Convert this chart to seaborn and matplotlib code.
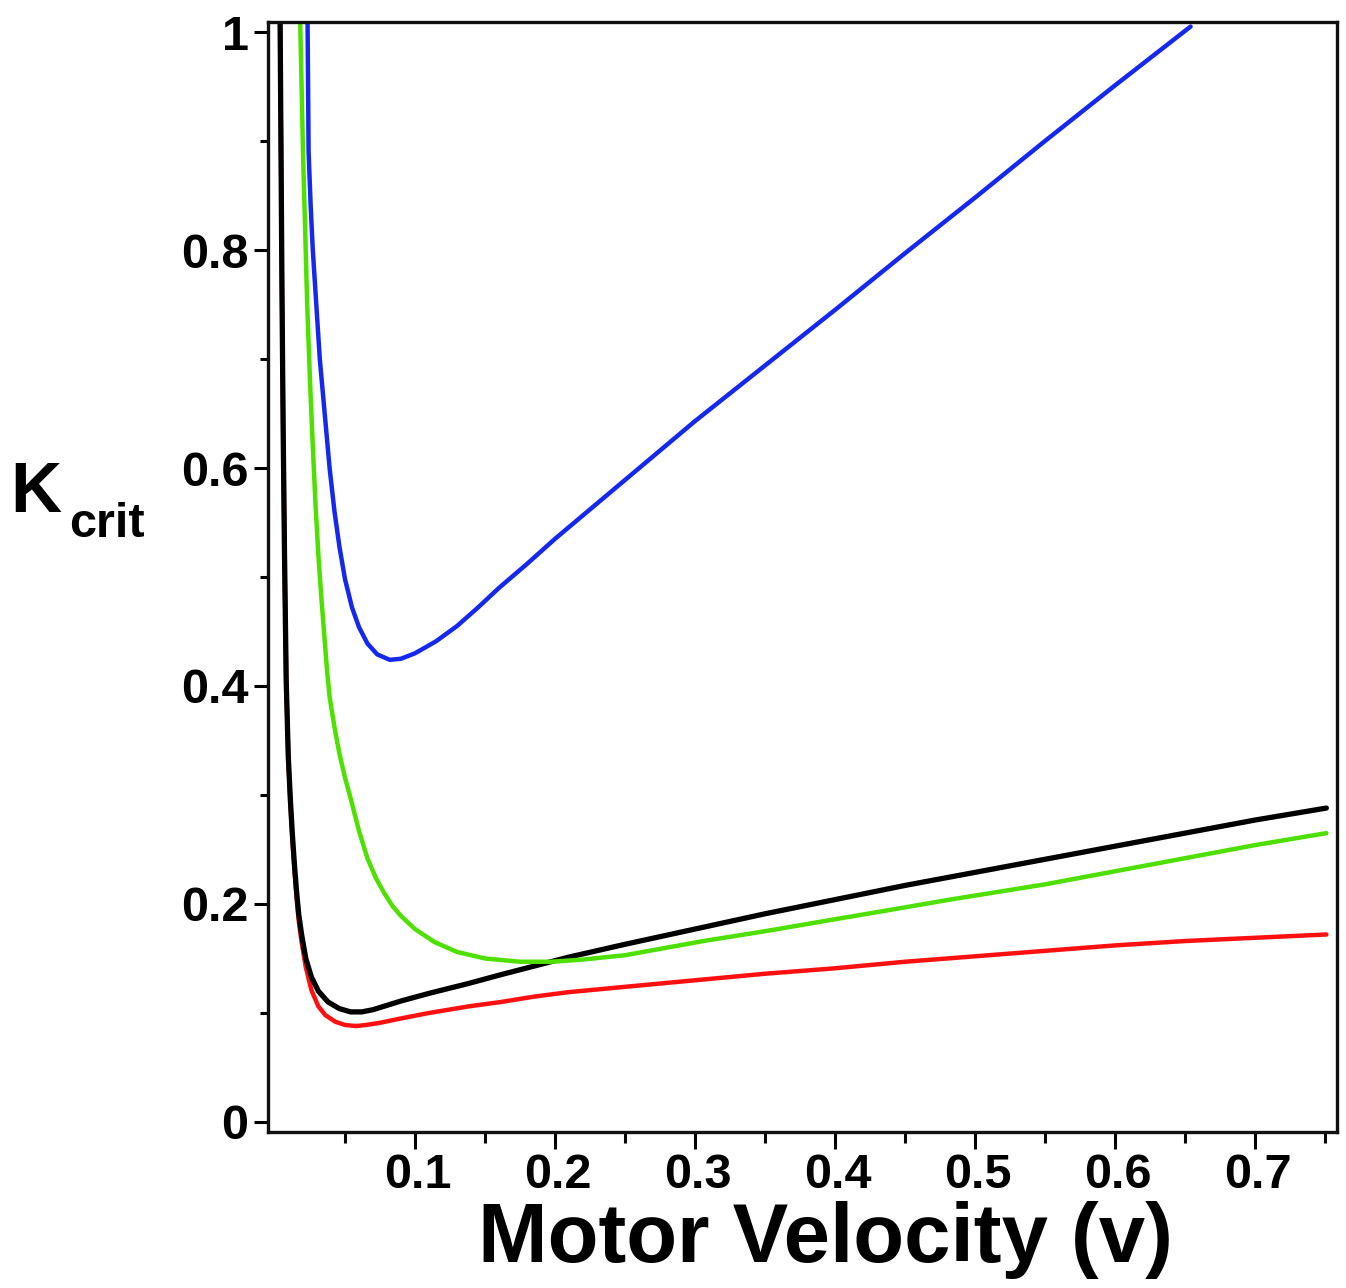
import numpy as np
import pandas as pd
import matplotlib
matplotlib.use("Agg")
import matplotlib.pyplot as plt
import matplotlib.transforms as mtransforms
from matplotlib.ticker import FixedLocator
import seaborn as sns

# ---- data ----
blue_v = [0.0232, 0.0240, 0.0255, 0.0270, 0.0295, 0.0320, 0.0355, 0.0390, 0.0425,
          0.0460, 0.0500, 0.0550, 0.0600, 0.0660, 0.0730, 0.0820, 0.0900, 0.1000,
          0.1150, 0.1300, 0.1450, 0.1600, 0.1800, 0.2000, 0.2500, 0.3000, 0.3500,
          0.4000, 0.4500, 0.5000, 0.5500, 0.6000, 0.6540]
blue_k = [1.020, 0.890, 0.840, 0.800, 0.750, 0.700, 0.650, 0.600, 0.560,
          0.528, 0.498, 0.472, 0.454, 0.439, 0.429, 0.424, 0.425, 0.430,
          0.441, 0.455, 0.472, 0.490, 0.512, 0.535, 0.589, 0.643, 0.694,
          0.745, 0.797, 0.848, 0.900, 0.951, 1.005]

green_v = [0.0178, 0.0190, 0.0200, 0.0215, 0.0230, 0.0250, 0.0270, 0.0290, 0.0310,
           0.0330, 0.0350, 0.0370, 0.0390, 0.0425, 0.0460, 0.0500, 0.0540, 0.0600,
           0.0660, 0.0720, 0.0780, 0.0840, 0.0900, 0.1000, 0.1140, 0.1300, 0.1500,
           0.1750, 0.1970, 0.2200, 0.2500, 0.3060, 0.3500, 0.4000, 0.4460, 0.4820,
           0.5500, 0.6000, 0.6500, 0.7000, 0.7510]
green_k = [1.020, 0.950, 0.890, 0.820, 0.750, 0.680, 0.620, 0.565, 0.520,
           0.483, 0.450, 0.417, 0.390, 0.362, 0.338, 0.316, 0.297, 0.267,
           0.242, 0.224, 0.210, 0.198, 0.189, 0.177, 0.165, 0.156, 0.150,
           0.147, 0.147, 0.149, 0.153, 0.166, 0.175, 0.186, 0.196, 0.204,
           0.218, 0.230, 0.242, 0.254, 0.265]

black_v = [0.0036, 0.0043, 0.0050, 0.0058, 0.0068, 0.0080, 0.0095, 0.0110, 0.0125,
           0.0140, 0.0155, 0.0170, 0.0190, 0.0220, 0.0260, 0.0310, 0.0380, 0.0460,
           0.0540, 0.0620, 0.0700, 0.0800, 0.0900, 0.1100, 0.1380, 0.1610, 0.1850,
           0.2090, 0.2500, 0.3000, 0.3500, 0.4000, 0.4500, 0.5000, 0.5500, 0.6000,
           0.6500, 0.7000, 0.7510]
black_k = [1.020, 0.890, 0.760, 0.640, 0.520, 0.405, 0.335, 0.295, 0.262,
           0.234, 0.210, 0.190, 0.172, 0.150, 0.133, 0.120, 0.110, 0.104,
           0.101, 0.101, 0.103, 0.107, 0.111, 0.118, 0.127, 0.135, 0.143,
           0.151, 0.163, 0.177, 0.191, 0.204, 0.217, 0.229, 0.241, 0.253,
           0.265, 0.277, 0.288]

red_v = [0.0036, 0.0043, 0.0050, 0.0058, 0.0068, 0.0080, 0.0095, 0.0110, 0.0125,
         0.0140, 0.0155, 0.0170, 0.0190, 0.0220, 0.0260, 0.0310, 0.0360, 0.0430,
         0.0500, 0.0580, 0.0650, 0.0750, 0.0900, 0.1100, 0.1380, 0.1610, 0.1850,
         0.2090, 0.2500, 0.3000, 0.3500, 0.4000, 0.4500, 0.5000, 0.5500, 0.6000,
         0.6500, 0.7000, 0.7510]
red_k = [1.020, 0.890, 0.760, 0.640, 0.520, 0.405, 0.333, 0.292, 0.258,
         0.230, 0.205, 0.184, 0.165, 0.142, 0.121, 0.106, 0.098, 0.092,
         0.089, 0.088, 0.089, 0.091, 0.095, 0.100, 0.106, 0.110, 0.115,
         0.119, 0.124, 0.130, 0.136, 0.141, 0.147, 0.152, 0.157, 0.162,
         0.166, 0.169, 0.172]

x_ticks = [0.1, 0.2, 0.3, 0.4, 0.5, 0.6, 0.7]
x_minor = [0.05, 0.15, 0.25, 0.35, 0.45, 0.55, 0.65, 0.75]
x_tick_labels = ["0.1", "0.2", "0.3", "0.4", "0.5", "0.6", "0.7"]
y_ticks = [0.0, 0.2, 0.4, 0.6, 0.8, 1.0]
y_minor = [0.1, 0.3, 0.5, 0.7, 0.9]
y_tick_labels = ["0", "0.2", "0.4", "0.6", "0.8", "1"]

series_order = ["red", "black", "green", "blue"]
palette = {"red": "#ff1010", "black": "#000000", "green": "#4ee000", "blue": "#1428f0"}
widths = {"red": 3.2, "black": 3.8, "green": 3.2, "blue": 3.2}

frames = [
    pd.DataFrame({"v": red_v, "K": red_k, "curve": "red"}),
    pd.DataFrame({"v": black_v, "K": black_k, "curve": "black"}),
    pd.DataFrame({"v": green_v, "K": green_k, "curve": "green"}),
    pd.DataFrame({"v": blue_v, "K": blue_k, "curve": "blue"}),
]
df = pd.concat(frames, ignore_index=True)

sns.set_style("white")
plt.rcParams["font.family"] = ["Liberation Sans", "DejaVu Sans"]
plt.rcParams["text.color"] = "black"
plt.rcParams["xtick.color"] = "black"
plt.rcParams["ytick.color"] = "black"
plt.rcParams["xtick.labelcolor"] = "black"
plt.rcParams["ytick.labelcolor"] = "black"

W, H = 1346, 1288
fig = plt.figure(figsize=(W / 100, H / 100), dpi=100)
ax = fig.add_axes([268 / W, 1 - 1132 / H, (1337 - 268) / W, (1132 - 22) / H])

for name in series_order:
    sub = df[df["curve"] == name]
    sns.lineplot(data=sub, x="v", y="K", ax=ax, color=palette[name],
                 estimator=None, sort=False, linewidth=widths[name],
                 legend=False)

ax.set_xlim(-0.005, 0.7586)
ax.set_ylim(-0.0092, 1.0092)

ax.xaxis.set_major_locator(FixedLocator(x_ticks))
ax.xaxis.set_minor_locator(FixedLocator(x_minor))
ax.yaxis.set_major_locator(FixedLocator(y_ticks))
ax.yaxis.set_minor_locator(FixedLocator(y_minor))
ax.set_xticklabels(x_tick_labels)
ax.set_yticklabels(y_tick_labels)

ax.tick_params(axis="both", which="both", direction="out", color="black",
               labelcolor="black", bottom=True, left=True, top=False, right=False)
ax.tick_params(axis="x", which="major", length=12, width=2.2, pad=3, labelsize=35)
ax.tick_params(axis="x", which="minor", length=8, width=2.2)
ax.tick_params(axis="y", which="major", length=10, width=2.2, pad=4, labelsize=35)
ax.tick_params(axis="y", which="minor", length=6, width=2.2)

for lab in ax.get_xticklabels() + ax.get_yticklabels():
    lab.set_fontweight("bold")

offset = mtransforms.ScaledTranslation(3 / 100, 0, fig.dpi_scale_trans)
for lab in ax.get_xticklabels():
    lab.set_transform(lab.get_transform() + offset)

for sp in ax.spines.values():
    sp.set_visible(True)
    sp.set_color("#111111")
    sp.set_linewidth(2.4)

ax.set_xlabel("")
ax.set_ylabel("")

fig.text(825 / W, 1 - 1240 / H, "Motor Velocity (v)", ha="center", va="center",
         fontsize=60, fontweight="bold", color="black")
fig.text(10 / W, 1 - 512 / H, "K", ha="left", va="baseline",
         fontsize=51, fontweight="bold", color="black")
fig.text(69 / W, 1 - 537 / H, "crit", ha="left", va="baseline",
         fontsize=35, fontweight="bold", color="black")

fig.savefig("out.png", dpi=100, facecolor="white")
